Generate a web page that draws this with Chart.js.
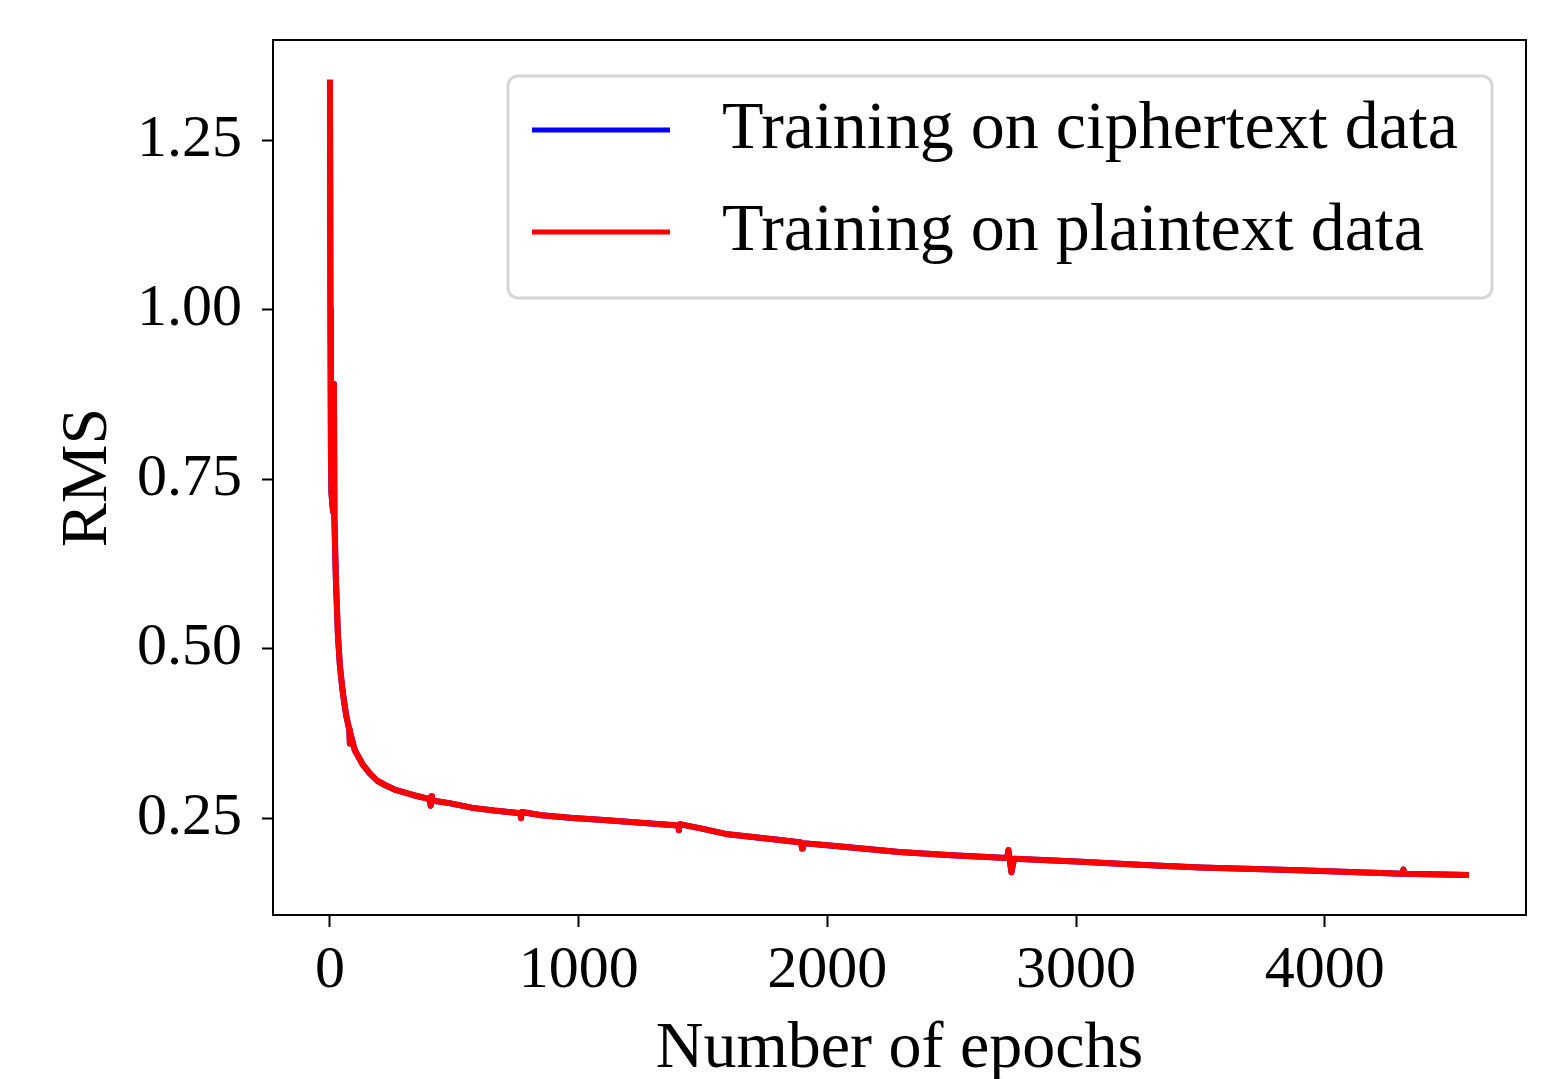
<!DOCTYPE html>
<html>
<head>
<meta charset="utf-8">
<script src="https://cdn.jsdelivr.net/npm/chart.js@4.4.0/dist/chart.umd.min.js"></script>
<style>
  html, body { margin: 0; padding: 0; background: #fff; overflow: hidden; }
  canvas { display: block; }
</style>
</head>
<body>
<canvas id="rmsChart" width="1558" height="1079"></canvas>
<script>
const epochs = [0, 2, 4, 6, 10, 14, 16, 18, 24, 32, 40, 50, 56, 66, 78, 80, 82, 100, 130, 160, 190, 225, 260, 333,
  400, 405, 408, 410, 480, 574, 660, 765, 768, 771, 850, 976, 1100, 1250, 1400, 1403, 1406, 1500, 1600, 1800,
  1895, 1898, 1901, 2000, 2289, 2500, 2723, 2728, 2740, 2751, 3000, 3253, 3500, 3896, 4313, 4316, 4320, 4580];

// RMS, training on ciphertext data (sits underneath the plaintext curve)
const cipherRms = [1.339, 1.0, 0.78, 0.73, 0.71, 0.70, 0.89, 0.69, 0.60, 0.52, 0.475, 0.44, 0.424, 0.40, 0.38, 0.36, 0.375,
  0.35, 0.33, 0.316, 0.305, 0.298, 0.292, 0.284, 0.278, 0.268, 0.282, 0.276, 0.272, 0.265, 0.261, 0.257, 0.250, 0.259,
  0.254, 0.250, 0.247, 0.243, 0.239, 0.232, 0.241, 0.234, 0.226, 0.218, 0.214, 0.205, 0.213, 0.210, 0.200, 0.195,
  0.191, 0.203, 0.170, 0.190, 0.186, 0.181, 0.177, 0.173, 0.168, 0.174, 0.168, 0.166];

// RMS, training on plaintext data
const plainRms = [1.339, 1.0, 0.78, 0.73, 0.71, 0.70, 0.89, 0.69, 0.60, 0.52, 0.475, 0.44, 0.424, 0.40, 0.38, 0.36, 0.375,
  0.35, 0.33, 0.316, 0.305, 0.298, 0.292, 0.284, 0.278, 0.268, 0.282, 0.276, 0.272, 0.265, 0.261, 0.257, 0.250, 0.259,
  0.254, 0.250, 0.247, 0.243, 0.239, 0.232, 0.241, 0.234, 0.226, 0.218, 0.214, 0.205, 0.213, 0.210, 0.200, 0.195,
  0.191, 0.203, 0.170, 0.190, 0.186, 0.181, 0.177, 0.173, 0.168, 0.174, 0.168, 0.166];

const seriesLabels = ['Training on ciphertext data', 'Training on plaintext data'];
const xTicks = [0, 1000, 2000, 3000, 4000];
const yTicks = [0.25, 0.50, 0.75, 1.00, 1.25];

const serif = "'Liberation Serif', 'DejaVu Serif', serif";

// box around the plot area (matplotlib style spines)
const framePlugin = {
  id: 'frame',
  afterDatasetsDraw(chart) {
    const { ctx, chartArea: a } = chart;
    ctx.save();
    ctx.strokeStyle = '#000';
    ctx.lineWidth = 2;
    ctx.strokeRect(a.left, a.top, a.right - a.left, a.bottom - a.top);
    ctx.restore();
  }
};

// legend drawn like the matplotlib one: rounded grey frame, line samples
const boxLegend = {
  id: 'boxLegend',
  afterDraw(chart) {
    const ctx = chart.ctx;
    ctx.save();
    ctx.beginPath();
    ctx.roundRect(508, 76, 984, 222, 10);
    ctx.fillStyle = 'rgba(255,255,255,0.8)';
    ctx.fill();
    ctx.lineWidth = 3;
    ctx.strokeStyle = '#d6d6d6';
    ctx.stroke();

    const rows = [130, 232];
    chart.data.datasets.forEach((ds, i) => {
      ctx.beginPath();
      ctx.moveTo(532, rows[i]);
      ctx.lineTo(670, rows[i]);
      ctx.lineWidth = 5;
      ctx.strokeStyle = ds.borderColor;
      ctx.stroke();
      ctx.fillStyle = '#000';
      ctx.font = '68px ' + serif;
      ctx.textBaseline = 'middle';
      ctx.textAlign = 'left';
      ctx.fillText(ds.label, 722, rows[i]);
    });
    ctx.restore();
  }
};

const ctx = document.getElementById('rmsChart').getContext('2d');

new Chart(ctx, {
  type: 'line',
  data: {
    datasets: [
      {
        label: seriesLabels[0],
        data: epochs.map((e, i) => ({ x: e, y: cipherRms[i] })),
        borderColor: '#0000ff',
        borderWidth: 6,
        pointRadius: 0,
        tension: 0,
        fill: false,
        order: 1,
      },
      {
        label: seriesLabels[1],
        data: epochs.map((e, i) => ({ x: e, y: plainRms[i] })),
        borderColor: '#ff0000',
        borderWidth: 6,
        pointRadius: 0,
        tension: 0,
        fill: false,
        order: 0,
      },
    ],
  },
  options: {
    responsive: false,
    animation: false,
    devicePixelRatio: 1,
    layout: { padding: { top: 40, right: 32, left: 0, bottom: 0 } },
    plugins: {
      legend: { display: false },
      tooltip: { enabled: false },
    },
    elements: { line: { borderJoinStyle: 'round', borderCapStyle: 'butt' } },
    scales: {
      x: {
        type: 'linear',
        min: -229,
        max: 4809,
        afterFit: (scale) => {
          scale.height = 164;
          scale.paddingLeft = 0;
          scale.paddingRight = 0;
        },
        afterBuildTicks: (scale) => { scale.ticks = xTicks.map(v => ({ value: v })); },
        grid: { drawOnChartArea: false, drawTicks: true, tickLength: 12, tickWidth: 2, tickColor: '#000' },
        border: { display: true, color: '#000', width: 2 },
        ticks: {
          color: '#000',
          padding: 8,
          maxRotation: 0,
          font: { family: serif, size: 60 },
          callback: (v) => String(v),
        },
        title: {
          display: true,
          text: 'Number of epochs',
          color: '#000',
          font: { family: serif, size: 66, lineHeight: 0.9 },
          padding: { top: 0, bottom: 0 },
        },
      },
      y: {
        type: 'linear',
        min: 0.107,
        max: 1.3975,
        afterFit: (scale) => {
          scale.width = 273;
          scale.paddingTop = 0;
          scale.paddingBottom = 0;
        },
        afterBuildTicks: (scale) => { scale.ticks = yTicks.map(v => ({ value: v })); },
        grid: { drawOnChartArea: false, drawTicks: true, tickLength: 11, tickWidth: 2, tickColor: '#000' },
        border: { display: true, color: '#000', width: 2 },
        ticks: {
          color: '#000',
          padding: 20,
          font: { family: serif, size: 60 },
          callback: (v) => Number(v).toFixed(2),
        },
        title: {
          display: true,
          text: 'RMS',
          color: '#000',
          font: { family: serif, size: 66 },
          padding: { top: 49, bottom: 0 },
        },
      },
    },
  },
  plugins: [framePlugin, boxLegend],
});
</script>
</body>
</html>
